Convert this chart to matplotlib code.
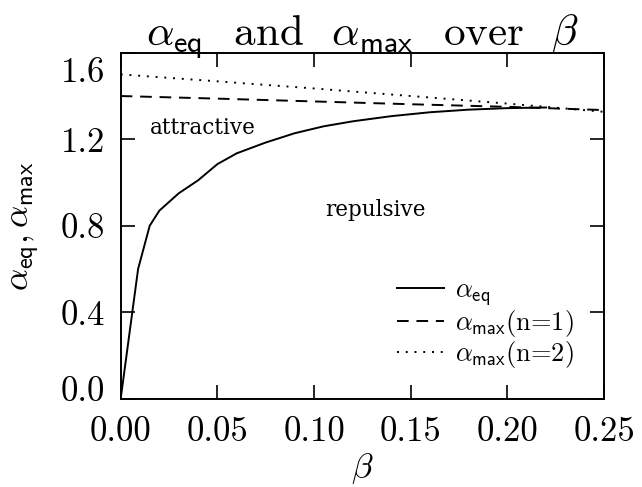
import matplotlib
matplotlib.use("Agg")
import matplotlib.pyplot as plt
import matplotlib.transforms as mtransforms

# ===============================
# Data
# ===============================
beta_eq = [0.0, 0.009, 0.015, 0.02, 0.03, 0.04, 0.05, 0.06, 0.075, 0.09,
           0.105, 0.12, 0.14, 0.16, 0.18, 0.20, 0.22]
alpha_eq = [0.0, 0.60, 0.80, 0.87, 0.95, 1.01, 1.085, 1.135, 1.185, 1.228,
            1.26, 1.283, 1.307, 1.325, 1.337, 1.344, 1.347]

beta_max = [0.0, 0.05, 0.10, 0.15, 0.20, 0.25]
alpha_max_n1 = [1.400, 1.388, 1.375, 1.362, 1.350, 1.335]
alpha_max_n2 = [1.500, 1.468, 1.435, 1.400, 1.365, 1.327]

x_ticks = [0.00, 0.05, 0.10, 0.15, 0.20, 0.25]
x_ticklabels = ["0.00", "0.05", "0.10", "0.15", "0.20", "0.25"]
y_ticks = [0.0, 0.4, 0.8, 1.2, 1.6]
y_ticklabels = ["0.0", "0.4", "0.8", "1.2", "1.6"]

# ===============================
# Style
# ===============================
plt.rcParams["font.family"] = ["cmr10", "DejaVu Serif"]
plt.rcParams["mathtext.fontset"] = "cm"
plt.rcParams["axes.formatter.use_mathtext"] = True
plt.rcParams["axes.linewidth"] = 1.4

fig = plt.figure(figsize=(6.42, 4.87), dpi=100)
ax = fig.add_axes([0.188, 0.1813, 0.753, 0.7103])

ax.plot(beta_eq, alpha_eq, color="black", lw=1.4, ls="-",
        label=r"$\alpha_{\mathsf{eq}}$")
ax.plot(beta_max, alpha_max_n1, color="black", lw=1.4, ls=(0, (6, 4)),
        label=r"$\alpha_{\mathsf{max}}$(n=1)")
ax.plot(beta_max, alpha_max_n2, color="black", lw=1.4, ls=(0, (1, 3.5)),
        label=r"$\alpha_{\mathsf{max}}$(n=2)")

ax.set_xlim(0, 0.25)
ax.set_ylim(0, 1.6)
ax.set_xticks(x_ticks)
ax.set_xticklabels(x_ticklabels)
ax.set_yticks(y_ticks)
ax.set_yticklabels(y_ticklabels)
ax.tick_params(direction="in", length=10, width=1.2, top=True, right=True,
               labelsize=25, pad=11)
ax.tick_params(axis="x", pad=13)

# IDL style: edge labels pulled inside the axis range
labs = ax.get_yticklabels()
labs[0].set_transform(labs[0].get_transform() +
                      mtransforms.ScaledTranslation(0, 0.10, fig.dpi_scale_trans))
labs[-1].set_transform(labs[-1].get_transform() +
                       mtransforms.ScaledTranslation(0, -0.17, fig.dpi_scale_trans))

ax.set_xlabel(r"$\beta$", fontsize=25, labelpad=2)
ax.set_ylabel(r"$\alpha_{\mathsf{eq}},\alpha_{\mathsf{max}}$", fontsize=25,
              labelpad=14)
ax.set_title(r"$\alpha_{\mathsf{eq}}$  and  $\alpha_{\mathsf{max}}$  over  $\beta$",
             fontsize=31, pad=5)

ax.text(0.0152, 1.252, "attractive", fontsize=15.5, va="center",
        family="DejaVu Serif")
ax.text(0.1056, 0.872, "repulsive", fontsize=15.5, va="center",
        family="DejaVu Serif")

ax.legend(loc="lower right", frameon=False, fontsize=19, handlelength=1.8,
          handletextpad=0.4, labelspacing=0.0, borderaxespad=0.3,
          bbox_to_anchor=(0.975, 0.03))

fig.savefig("out.png", dpi=100)
